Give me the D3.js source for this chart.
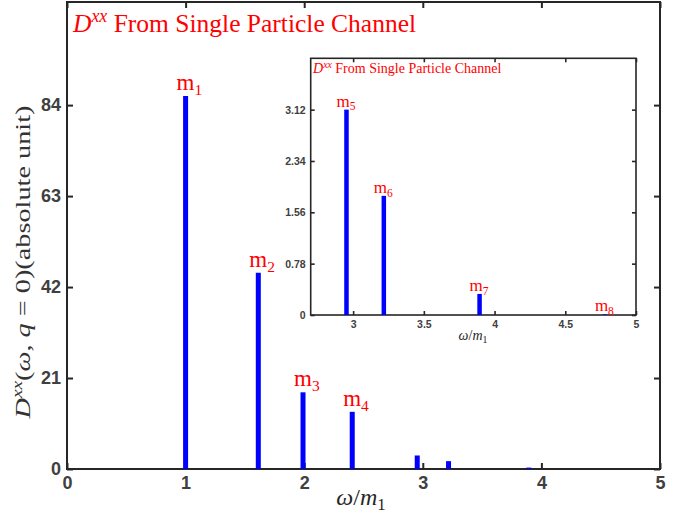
<!DOCTYPE html>
<html>
<head>
<meta charset="utf-8">
<script src="https://cdn.jsdelivr.net/npm/d3@7"></script>
<style>
  html, body { margin: 0; padding: 0; background: #fff; }
  svg { display: block; }
  .tick text { font-family: "Liberation Sans", Arial, sans-serif; font-weight: bold; fill: #404040; }
  .serif { font-family: "Liberation Serif", "DejaVu Serif", serif; }
</style>
</head>
<body>
<svg id="chart" width="693" height="523"></svg>
<script>
// Peak positions (in units of m1) and spectral weights of the single particle channel
const peakLabels = ["1", "2", "3", "4", "5", "6", "7", "8"];
const peakOmega  = [1, 1.613, 1.99, 2.405, 2.953, 3.217, 3.894, 4.78];
const peakWeight = [86.1, 45.3, 17.7, 13.2, 3.12, 1.81, 0.32, 0.01];

// Axis settings
const mainXTicks  = [0, 1, 2, 3, 4, 5];
const mainYTicks  = [0, 21, 42, 63, 84];
const insetXTicks = [3, 3.5, 4, 4.5, 5];
const insetYTicks = [0, 0.78, 1.56, 2.34, 3.12];
const insetPeaks  = [4, 5, 6, 7];   // indices of peaks labelled in the zoomed panel

const axisColor = "#262626";
const svg = d3.select("#chart");

function drawPanel(g, x, y, xTicks, yTicks, opt) {
  const [x0, x1] = x.range();
  const [y0, y1] = y.range();
  // white background
  g.append("rect").attr("x", x0).attr("y", y1).attr("width", x1 - x0).attr("height", y0 - y1)
    .attr("fill", "#fff");

  const fmt = d => String(d);
  const bottom = g.append("g").attr("transform", `translate(0,${y0})`)
    .call(d3.axisBottom(x).tickValues(xTicks).tickFormat(fmt).tickSizeInner(-opt.tick).tickSizeOuter(0).tickPadding(opt.xPad));
  const left = g.append("g").attr("transform", `translate(${x0},0)`)
    .call(d3.axisLeft(y).tickValues(yTicks).tickFormat(fmt).tickSizeInner(-opt.tick).tickSizeOuter(0).tickPadding(opt.yPad));
  const top = g.append("g").attr("transform", `translate(0,${y1})`)
    .call(d3.axisTop(x).tickValues(xTicks).tickFormat("").tickSizeInner(-opt.tick).tickSizeOuter(0));
  const right = g.append("g").attr("transform", `translate(${x1},0)`)
    .call(d3.axisRight(y).tickValues(yTicks).tickFormat("").tickSizeInner(-opt.tick).tickSizeOuter(0));
  [bottom, left, top, right].forEach(a => {
    a.selectAll(".domain").remove();
    a.selectAll(".tick line").attr("stroke", axisColor).attr("stroke-width", opt.lw);
    a.selectAll(".tick text").style("font-size", opt.tickFont + "px");
  });
  g.append("rect").attr("x", x0).attr("y", y1).attr("width", x1 - x0).attr("height", y0 - y1)
    .attr("fill", "none").attr("stroke", axisColor).attr("stroke-width", opt.lw);
}

function drawBars(g, x, y, idx, w) {
  g.selectAll(null).data(idx).join("rect")
    .attr("x", i => x(peakOmega[i]) - w / 2)
    .attr("y", i => y(peakWeight[i]))
    .attr("width", w)
    .attr("height", i => y(0) - y(peakWeight[i]))
    .attr("fill", "#0000ff");
}

function peakLabel(g, px, py, n, size, subSize) {
  const t = g.append("text").attr("class", "serif").attr("x", px).attr("y", py)
    .attr("fill", "#ff0000").style("font-size", size + "px");
  t.append("tspan").text("m");
  t.append("tspan").attr("dy", size * 0.22).style("font-size", subSize + "px").text(n);
}

function titleText(g, px, py, size) {
  const t = g.append("text").attr("class", "serif").attr("x", px).attr("y", py)
    .attr("fill", "#ff0000").style("font-size", size + "px");
  t.append("tspan").attr("font-style", "italic").text("D");
  t.append("tspan").attr("font-style", "italic").attr("dy", -size * 0.38)
    .style("font-size", (size * 0.7) + "px").text("xx");
  t.append("tspan").attr("dy", size * 0.38).text("\u00a0From Single Particle Channel");
  return t;
}

function omegaLabel(g, px, py, size) {
  const t = g.append("text").attr("class", "serif").attr("x", px).attr("y", py)
    .attr("text-anchor", "middle").attr("fill", "#262626").style("font-size", size + "px");
  t.append("tspan").attr("font-style", "italic").text("ω");
  t.append("tspan").text("/");
  t.append("tspan").attr("font-style", "italic").text("m");
  t.append("tspan").attr("dy", size * 0.22).style("font-size", (size * 0.7) + "px").text("1");
}

// ---------- main panel ----------
const xMain = d3.scaleLinear().domain([0, 5]).range([67, 660]);
const yMain = d3.scaleLinear().domain([0, 107.8]).range([469, 2]);
const gMain = svg.append("g");
drawPanel(gMain, xMain, yMain, mainXTicks, mainYTicks,
  { tick: 6, lw: 2, tickFont: 18, xPad: 7, yPad: 6 });
drawBars(gMain, xMain, yMain, d3.range(peakOmega.length), 5);
[0, 1, 2, 3].forEach(i => {
  peakLabel(gMain, xMain(peakOmega[i]) - 9, yMain(peakWeight[i]) - 6, peakLabels[i], 23, 15.5);
});
titleText(gMain, 73, 32, 25.5);
omegaLabel(gMain, 361, 505, 24);

// vertical axis title
const yl = gMain.append("text").attr("class", "serif")
  .attr("transform", "translate(30,262) rotate(-90)")
  .attr("text-anchor", "middle").attr("fill", "#333").style("font-size", "22px")
  .attr("textLength", 313).attr("lengthAdjust", "spacingAndGlyphs");
yl.append("tspan").attr("font-style", "italic").text("D");
yl.append("tspan").attr("font-style", "italic").attr("dy", -8).style("font-size", "15px").text("xx");
yl.append("tspan").attr("dy", 8).text("(");
yl.append("tspan").attr("font-style", "italic").text("ω");
yl.append("tspan").text(", ");
yl.append("tspan").attr("font-style", "italic").text("q");
yl.append("tspan").text(" = 0)(absolute unit)");

// ---------- zoomed panel ----------
const xIn = d3.scaleLinear().domain([2.7, 5]).range([310.7, 636]);
const yIn = d3.scaleLinear().domain([0, 3.9]).range([315, 58.3]);
const gIn = svg.append("g");
drawPanel(gIn, xIn, yIn, insetXTicks, insetYTicks,
  { tick: 4, lw: 1.6, tickFont: 10.5, xPad: 6, yPad: 5 });
drawBars(gIn, xIn, yIn, insetPeaks, 4.5);
insetPeaks.forEach(i => {
  peakLabel(gIn, xIn(peakOmega[i]) - 10, yIn(peakWeight[i]) - 3, peakLabels[i], 17, 11.5);
});
titleText(gIn, 313, 73, 14);
omegaLabel(gIn, 473, 340, 14);
</script>
</body>
</html>
